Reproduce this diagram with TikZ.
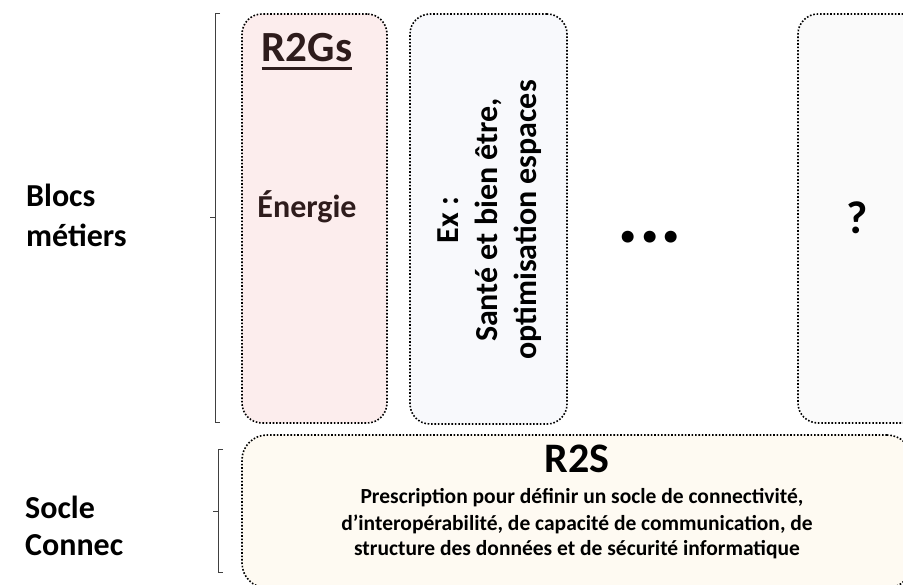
\documentclass[tikz,border=0pt]{standalone}
\usepackage{fontspec}
\setmainfont{Carlito}
\definecolor{pinkfill}{HTML}{FCEDED}
\definecolor{bluefill}{HTML}{F8F9FC}
\definecolor{greyfill}{HTML}{FAFAFA}
\definecolor{creamfill}{HTML}{FEFAF2}
\definecolor{brownish}{HTML}{2E1C1C}
\definecolor{bracketgrey}{HTML}{404040}
\begin{document}
\begin{tikzpicture}[x=1pt,y=-1pt,
  blockbox/.style={draw=black, line width=1.6pt, dash pattern=on 1.6pt off 1.8pt,
                   rounded corners=20pt, inner sep=0pt},
  bracketline/.style={draw=bracketgrey, line width=1pt},
  sidelabel/.style={font=\fontsize{32}{38}\selectfont\bfseries, anchor=base west, inner sep=0pt},
  prescr/.style={font=\fontsize{21.5}{26}\selectfont\bfseries, anchor=base, inner sep=0pt}]
\useasboundingbox (0,0) rectangle (903,585);
\clip (0,0) rectangle (903,585);
% boxes
\node[blockbox, fill=pinkfill, minimum width=145pt, minimum height=409pt] (r2gsbox) at (314.5,218.5) {};
\node[blockbox, fill=bluefill, minimum width=157pt, minimum height=410pt] (exbox) at (488.5,219) {};
\node[blockbox, fill=greyfill, minimum width=132pt, minimum height=409pt] (qbox) at (864,218.5) {};
\node[blockbox, fill=creamfill, rounded corners=25pt, minimum width=670pt, minimum height=153pt] (r2sbox) at (577,511.5) {};
% brackets
\draw[bracketline] (220,14) -- (215,14) -- (215,423) -- (220,423);
\coordinate (tmidA) at (215,218);
\coordinate (tmidB) at (210,218);
\draw[bracketline] (tmidA) -- (tmidB);
\draw[bracketline] (223,450) -- (218,450) -- (218,572) -- (223,572);
\coordinate (bmidA) at (218,511);
\coordinate (bmidB) at (213,511);
\draw[bracketline] (bmidA) -- (bmidB);
% side labels
\node[sidelabel] (blocsA) at (26,207) {Blocs};
\node[sidelabel] (blocsB) at (26,247) {métiers};
\node[sidelabel] (socleA) at (25,518) {Socle};
\node[sidelabel] (socleB) at (25,555) {Connec};
% R2Gs box
\node[font=\fontsize{43}{50}\selectfont\bfseries, text=brownish, anchor=base, inner sep=0pt] (r2gs) at (307,62) {R2Gs};
\draw[brownish, line width=3pt] ([yshift=-7pt]r2gs.base west) -- ([yshift=-7pt]r2gs.base east);
\node[font=\fontsize{32}{38}\selectfont\bfseries, text=brownish, anchor=base, inner sep=0pt] (energie) at (307,218) {Énergie};
% Ex box
\node[font=\fontsize{32}{39}\selectfont\bfseries, rotate=90, align=center, inner sep=0pt] (extext) at (490,220)
  {Ex :\\Santé et bien être,\\optimisation espaces};
% dots and question
\node[font=\fontsize{80}{80}\selectfont\bfseries, inner sep=0pt] (dots) at (650,237) {...};
\node[font=\fontsize{46}{52}\selectfont\bfseries, anchor=base, inner sep=0pt] (qmark) at (857,234) {?};
% R2S
\node[font=\fontsize{42}{48}\selectfont\bfseries, anchor=base, inner sep=0pt] (r2s) at (577,472) {R2S};
\node[prescr] (pA) at (582,503) {Prescription pour définir un socle de connectivité,};
\node[prescr] (pB) at (577,530) {d’interopérabilité, de capacité de communication, de};
\node[prescr] (pC) at (577,555) {structure des données et de sécurité informatique};
\end{tikzpicture}
\end{document}
